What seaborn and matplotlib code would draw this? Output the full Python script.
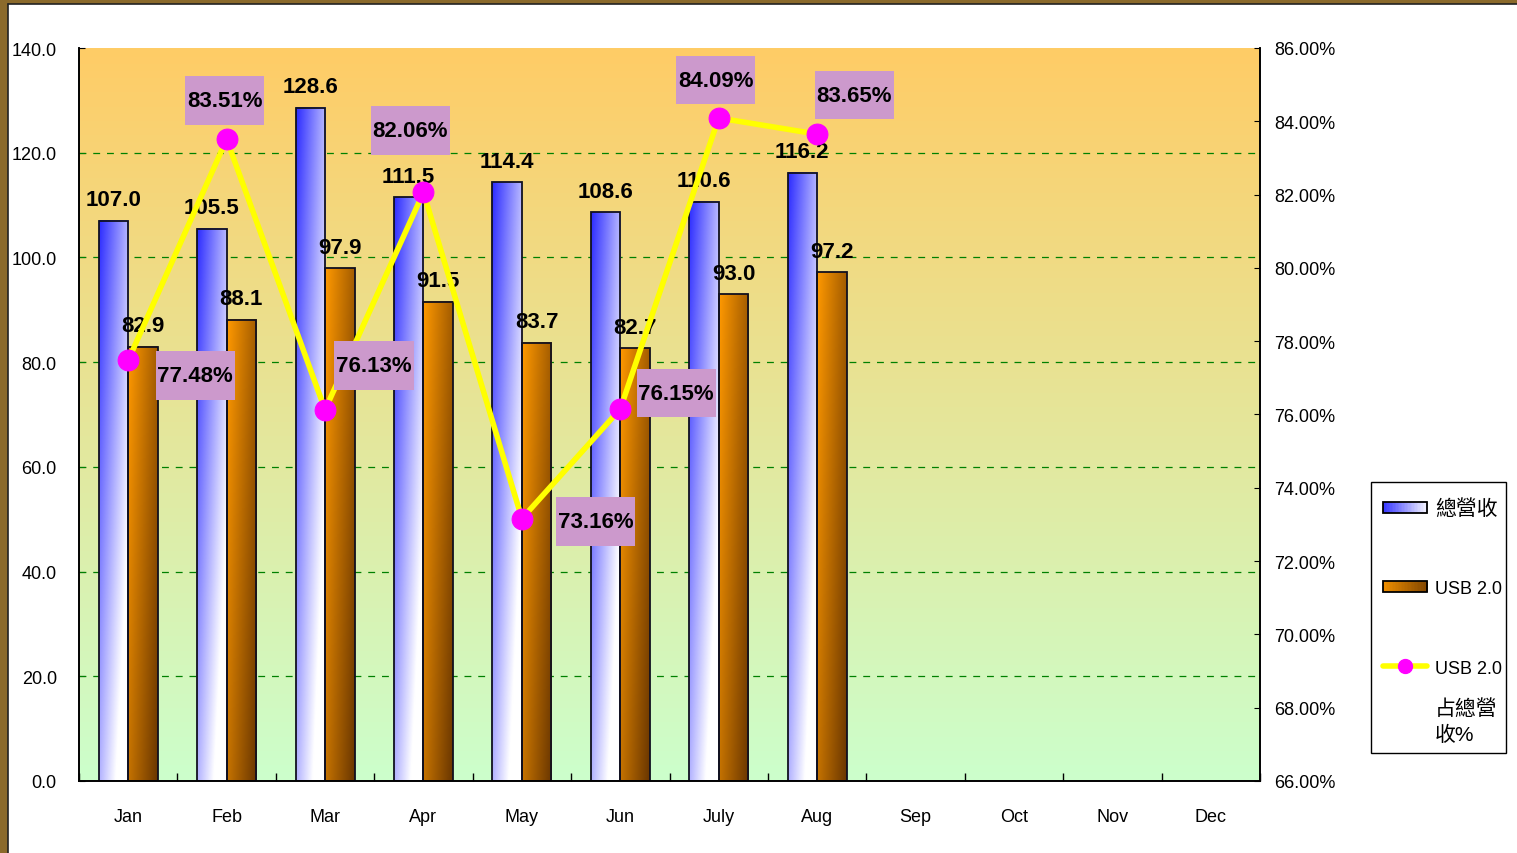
import numpy as np
import pandas as pd
import matplotlib
matplotlib.use("Agg")
import matplotlib.pyplot as plt
import seaborn as sns
from matplotlib import font_manager as fm
from matplotlib.patches import Rectangle
from matplotlib.lines import Line2D
from matplotlib.legend_handler import HandlerBase
from matplotlib.path import Path

# ---------------- data ----------------
months_all = ["Jan", "Feb", "Mar", "Apr", "May", "Jun", "July", "Aug", "Sep", "Oct", "Nov", "Dec"]
months = ["Jan", "Feb", "Mar", "Apr", "May", "Jun", "July", "Aug"]
total_rev = [107.0, 105.5, 128.6, 111.5, 114.4, 108.6, 110.6, 116.2]
usb_rev = [82.9, 88.1, 97.9, 91.5, 83.7, 82.7, 93.0, 97.2]
usb_pct = [77.48, 83.51, 76.13, 82.06, 73.16, 76.15, 84.09, 83.65]
series_names = ["總營收", "USB 2.0"]
line_name = "USB 2.0"
line_name_rest = "占總營\n收%"
left_ticks = [0, 20, 40, 60, 80, 100, 120, 140]
right_ticks = [66, 68, 70, 72, 74, 76, 78, 80, 82, 84, 86]

# pixel offsets of percentage boxes relative to their points (style only)
pct_offsets = [(67, -15), (-2, 39), (49, 44), (-13, 62), (74, -3), (56, 16), (-3, 38), (37, 39)]

# ---------------- fonts ----------------
sns.set_style("white")
names = {f.name for f in fm.fontManager.ttflist}
NARROW = "Liberation Sans Narrow" if "Liberation Sans Narrow" in names else "Liberation Sans"
narrow_ok = NARROW == "Liberation Sans Narrow"
FAM = [NARROW, "Noto Sans CJK TC", "DejaVu Sans"]
plt.rcParams["font.family"] = FAM
plt.rcParams["axes.unicode_minus"] = False
plt.rcParams["text.color"] = "black"
plt.rcParams["xtick.color"] = "black"
plt.rcParams["ytick.color"] = "black"
plt.rcParams["axes.labelcolor"] = "black"

lab_fs = 18 if narrow_ok else 16
tick_fs = 14.5 if narrow_ok else 13
cjk_fs = 15

W, H = 1517, 854
fig = plt.figure(figsize=(W / 100, H / 100), dpi=100)
fig.patch.set_facecolor("white")

x0p, x1p, ytop, ybot = 79, 1260, 49, 782
ax = fig.add_axes([x0p / W, (H - ybot) / H, (x1p - x0p) / W, (ybot - ytop) / H])

# background gradient
top_c = np.array([1.0, 0.8, 0.4])
bot_c = np.array([0.8, 1.0, 0.8])
t = np.linspace(0, 1, 256)[:, None]
bg = (1 - t) * top_c + t * bot_c
bg = np.repeat(bg[:, None, :], 2, axis=1)
ax.imshow(bg, extent=[0, 1, 0, 1], transform=ax.transAxes, aspect="auto", zorder=0, origin="upper")

# ---------------- bars ----------------
df = pd.DataFrame({
    "month": months * 2,
    "value": total_rev + usb_rev,
    "series": [series_names[0]] * len(months) + [series_names[1]] * len(months),
})
pal = {series_names[0]: "#0000ff", series_names[1]: "#ff9900"}
sns.barplot(data=df, x="month", y="value", hue="series", order=months_all,
            hue_order=series_names, palette=pal, width=0.6, dodge=True,
            saturation=1, edgecolor="#101020", linewidth=1.3, ax=ax, legend=False,
            errorbar=None)

ax.set_xlim(-0.5, 11.5)
ax.set_ylim(0, 140)

def grad_blue(nx=40, ny=120):
    xf = np.linspace(0, 1, nx)[None, :]
    yf = np.linspace(0, 1, ny)[:, None]
    w = np.clip(0.05 + 0.62 * xf + 0.6 * yf, 0, 1)[..., None]
    blue = np.array([0.13, 0.13, 1.0])
    return (1 - w) * blue + w * np.array([1.0, 1.0, 1.0])

def grad_orange(nx=40, ny=120):
    xf = np.linspace(0, 1, nx)[None, :]
    yf = np.linspace(0, 1, ny)[:, None]
    d = np.clip(0.55 * xf + 0.35 * yf, 0, 1)[..., None]
    org = np.array([1.0, 0.6, 0.0])
    dark = np.array([0.35, 0.17, 0.0])
    return (1 - d) * org + d * dark

for p in list(ax.patches):
    fc = p.get_facecolor()
    is_blue = fc[2] > 0.5
    x, y, w, h = p.get_x(), p.get_y(), p.get_width(), p.get_height()
    if h <= 0 or np.isnan(h):
        continue
    img = grad_blue() if is_blue else grad_orange()
    ax.imshow(img, extent=[x, x + w, y, y + h], aspect="auto", origin="upper", zorder=2.5)
    p.set_facecolor("none")
    p.set_zorder(3)
    ax.annotate(f"{h:.1f}", (x + w / 2, h), xytext=(0, 21), textcoords="offset pixels",
                ha="center", va="center", fontsize=lab_fs, fontweight="bold",
                family=FAM, color="black", zorder=6)

ax.set_xlim(-0.5, 11.5)
ax.set_ylim(0, 140)

# grid
for v in left_ticks[1:-1]:
    ax.axhline(v, color="#008000", lw=0.9, ls=(0, (5.5, 5.5)), zorder=1)

ax.set_yticks(left_ticks)
ax.set_yticklabels([f"{v:.1f}" for v in left_ticks])
ax.set_xticks(range(12))
ax.set_xticklabels(months_all)
ax.set_xticks(np.arange(-0.5, 12, 1), minor=True)
ax.tick_params(axis="x", which="major", length=0, pad=19.5, labelsize=tick_fs)
ax.tick_params(axis="x", which="minor", direction="in", length=6, width=1, bottom=True, color="black")
ax.tick_params(axis="y", direction="in", length=4, pad=16, labelsize=tick_fs, left=True)
ax.set_xlabel("")
ax.set_ylabel("")
for s in ["left", "bottom", "right"]:
    ax.spines[s].set_color("black")
    ax.spines[s].set_linewidth(1.2)
ax.spines["top"].set_visible(False)

# ---------------- line on twin ----------------
ax2 = ax.twinx()
xpos = np.arange(len(usb_pct))
sns.lineplot(x=xpos, y=usb_pct, ax=ax2, color="#ffff00", lw=4, marker="o",
             markersize=15, markerfacecolor="#ff00ff", markeredgecolor="#ff00ff",
             zorder=5)
ax2.set_ylim(66, 86)
ax2.set_yticks(right_ticks)
ax2.set_yticklabels([f"{v:.2f}%" for v in right_ticks])
ax2.tick_params(axis="y", direction="in", length=4, pad=10.5, labelsize=tick_fs, right=True)
ax2.set_ylabel("")
ax2.set_xlabel("")
ax2.spines["top"].set_visible(False)
for s in ["left", "bottom", "right"]:
    ax2.spines[s].set_color("black")
    ax2.spines[s].set_linewidth(1.2)
ax2.set_xlim(-0.5, 11.5)

def tallbox(x0, y0, width, height, mutation_size):
    padx = 0.08 * mutation_size
    pady = 0.62 * mutation_size
    xa, xb = x0 - padx, x0 + width + padx
    ya, yb = y0 - pady, y0 + height + pady
    return Path([(xa, ya), (xb, ya), (xb, yb), (xa, yb), (xa, ya)], closed=True)

for xi, v, off in zip(xpos, usb_pct, pct_offsets):
    ax2.annotate(f"{v:.2f}%", (xi, v), xytext=off, textcoords="offset pixels",
                 ha="center", va="center", fontsize=lab_fs, fontweight="bold", family=FAM,
                 color="black",
                 bbox=dict(boxstyle=tallbox, facecolor="#cc99cc", edgecolor="none"),
                 zorder=7)

# ---------------- legend ----------------
class GradHandler(HandlerBase):
    def __init__(self, kind):
        super().__init__()
        self.kind = kind

    def create_artists(self, legend, orig_handle, xdescent, ydescent, width, height, fontsize, trans):
        arts = []
        n = 30
        hh = height * 0.8
        yb = -ydescent + (height - hh) / 2
        for i in range(n):
            f = i / (n - 1)
            if self.kind == "blue":
                w = 0.1 + 0.85 * f
                c = (1 - w) * np.array([0.13, 0.13, 1.0]) + w * np.ones(3)
            else:
                d = 0.1 + 0.65 * f
                c = (1 - d) * np.array([1.0, 0.6, 0.0]) + d * np.array([0.35, 0.17, 0.0])
            r = Rectangle((-xdescent + width * i / n, yb), width / n + 0.3, hh,
                          facecolor=c, edgecolor="none", transform=trans)
            arts.append(r)
        arts.append(Rectangle((-xdescent, yb), width, hh, facecolor="none",
                              edgecolor="black", lw=1.3, transform=trans))
        return arts

h_blue = Rectangle((0, 0), 1, 1)
h_org = Rectangle((0, 0), 1, 1)
h_line = Line2D([], [], color="#ffff00", lw=4, marker="o", markersize=10,
                markerfacecolor="#ff00ff", markeredgecolor="#ff00ff")
leg = fig.legend([h_blue, h_org, h_line], [series_names[0], series_names[1], line_name],
                 handler_map={h_blue: GradHandler("blue"), h_org: GradHandler("orange")},
                 loc="upper left", bbox_to_anchor=(1383 / W, (H - 499) / H),
                 bbox_transform=fig.transFigure, frameon=False, borderaxespad=0,
                 borderpad=0, handlelength=2.45, handleheight=0.8, handletextpad=0.45,
                 labelspacing=3.45, prop={"family": FAM, "size": tick_fs})
for txt in leg.get_texts():
    txt.set_color("black")
leg.get_texts()[0].set_fontsize(cjk_fs)
fig.text(1435 / W, (H - 722) / H, line_name_rest, ha="left", va="center",
         fontsize=cjk_fs, family=FAM, linespacing=1.45, color="black")
fig.add_artist(Rectangle((1371 / W, (H - 754) / H), 135 / W, 271 / H,
                         transform=fig.transFigure, fill=False, edgecolor="black", lw=1))

# ---------------- outer brown frame ----------------
brown = "#8b6a2b"
fig.add_artist(Rectangle((0, 0), 8 / W, 1, transform=fig.transFigure, facecolor=brown,
                         edgecolor="none", zorder=10))
fig.add_artist(Rectangle((0, 1 - 5 / H), 1, 5 / H, transform=fig.transFigure,
                         facecolor=brown, edgecolor="none", zorder=10))
fig.add_artist(Line2D([8 / W, 8 / W], [0, 1 - 5 / H], transform=fig.transFigure,
                      color="#222222", lw=1.2, zorder=11))
fig.add_artist(Line2D([8 / W, 1], [1 - 5 / H, 1 - 5 / H], transform=fig.transFigure,
                      color="#222222", lw=1.2, zorder=11))

fig.savefig("out.png", dpi=100)
